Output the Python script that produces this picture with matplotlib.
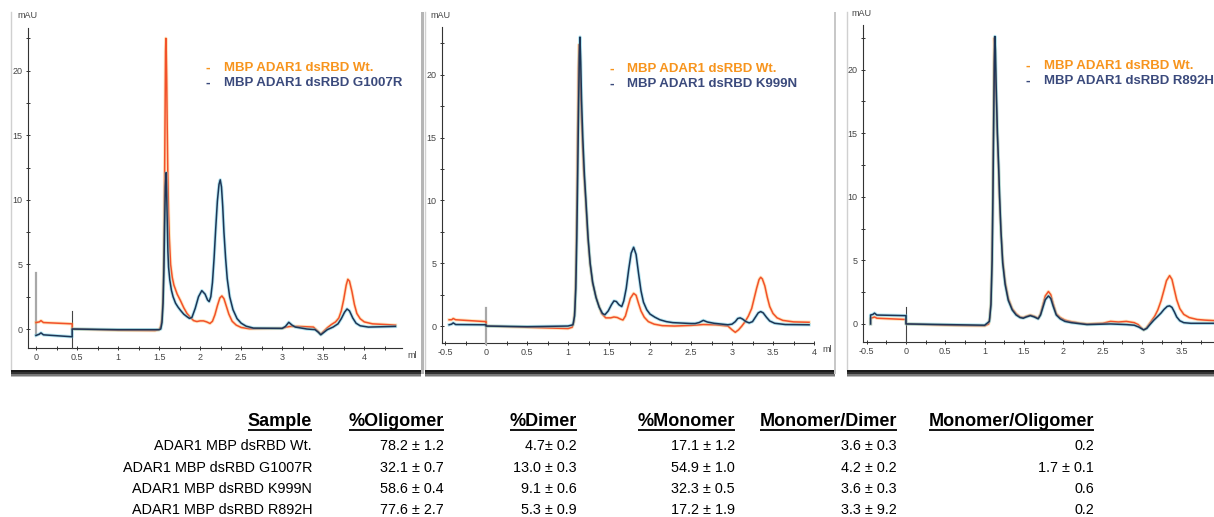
import matplotlib
matplotlib.use("Agg")
import matplotlib.pyplot as plt
from matplotlib.patches import Rectangle
from matplotlib.ticker import MultipleLocator, FuncFormatter

plt.rcParams['font.family'] = ['Liberation Sans', 'DejaVu Sans']

W, H = 1214, 517

# ---------------- data (ml, mAU) ----------------
legend_wt = "MBP ADAR1 dsRBD Wt."
legend_mut = ["MBP ADAR1 dsRBD G1007R", "MBP ADAR1 dsRBD K999N", "MBP ADAR1 dsRBD R892H"]

p1_wt = [(0.0, 0.5), (0.04, 0.55), (0.06, 0.65), (0.09, 0.5), (0.44, 0.4), (0.44, 0.0), (1.0, -0.1),
         (1.45, -0.12), (1.50, -0.05), (1.52, 0.2), (1.535, 0.8), (1.548, 2.5), (1.558, 6.0), (1.566, 11.0),
         (1.573, 17.0), (1.578, 21.5), (1.582, 22.5), (1.587, 21.5), (1.592, 19.5), (1.598, 16.0),
         (1.606, 12.0), (1.615, 9.0), (1.625, 7.0), (1.64, 5.0), (1.66, 4.0), (1.68, 3.4), (1.72, 2.7),
         (1.76, 2.2), (1.80, 1.65), (1.84, 1.2), (1.88, 0.9), (1.92, 0.65), (1.96, 0.58), (2.0, 0.63),
         (2.04, 0.63), (2.08, 0.55), (2.12, 0.43), (2.15, 0.6), (2.18, 1.1), (2.21, 1.8), (2.24, 2.4),
         (2.265, 2.56), (2.29, 2.35), (2.32, 1.75), (2.35, 1.15), (2.39, 0.6), (2.44, 0.3), (2.5, 0.12),
         (2.6, 0.02), (3.0, 0.05), (3.05, 0.15), (3.1, 0.2), (3.2, 0.2), (3.38, 0.15), (3.44, -0.2),
         (3.47, -0.4), (3.51, -0.15), (3.55, 0.1), (3.60, 0.35), (3.65, 0.55), (3.69, 0.85), (3.72, 1.4),
         (3.75, 2.3), (3.78, 3.4), (3.80, 3.85), (3.82, 3.7), (3.85, 2.9), (3.88, 1.9), (3.91, 1.2),
         (3.95, 0.8), (4.0, 0.55), (4.1, 0.4), (4.25, 0.35), (4.38, 0.3)]
p1_mut = [(0.0, -0.5), (0.04, -0.4), (0.06, -0.3), (0.09, -0.45), (0.44, -0.6), (0.44, 0.0), (1.0, -0.05),
          (1.5, -0.05), (1.52, 0.0), (1.535, 0.5), (1.548, 2.0), (1.558, 4.5), (1.567, 8.0), (1.576, 11.0),
          (1.585, 12.1), (1.592, 10.5), (1.60, 8.0), (1.607, 6.0), (1.615, 4.8), (1.63, 3.8), (1.65, 3.0),
          (1.67, 2.5), (1.70, 2.0), (1.73, 1.7), (1.76, 1.45), (1.80, 1.15), (1.84, 0.95), (1.87, 0.82),
          (1.90, 0.9), (1.94, 1.6), (1.98, 2.5), (2.02, 2.97), (2.06, 2.7), (2.09, 2.25), (2.11, 2.12),
          (2.13, 2.5), (2.15, 3.6), (2.17, 5.5), (2.19, 7.8), (2.21, 9.9), (2.23, 11.2), (2.245, 11.55),
          (2.26, 11.0), (2.275, 9.5), (2.29, 7.5), (2.31, 5.5), (2.33, 3.9), (2.36, 2.5), (2.40, 1.5),
          (2.45, 0.8), (2.5, 0.45), (2.56, 0.22), (2.65, 0.07), (3.0, 0.05), (3.04, 0.2), (3.08, 0.52),
          (3.12, 0.3), (3.16, 0.15), (3.3, 0.0), (3.4, -0.05), (3.44, -0.25), (3.47, -0.45), (3.51, -0.25),
          (3.55, -0.05), (3.62, 0.15), (3.68, 0.4), (3.72, 0.8), (3.76, 1.3), (3.79, 1.55), (3.82, 1.4),
          (3.86, 0.85), (3.90, 0.45), (3.95, 0.25), (4.05, 0.15), (4.38, 0.2)]

p2_wt = [(-0.45, 0.5), (-0.42, 0.5), (-0.40, 0.6), (-0.37, 0.5), (0.0, 0.35), (0.0, 0.0), (0.5, -0.1),
         (1.0, -0.2), (1.05, -0.1), (1.07, 0.3), (1.085, 1.5), (1.098, 5.0), (1.108, 10.0), (1.118, 16.0),
         (1.127, 20.5), (1.134, 22.4), (1.142, 21.5), (1.15, 19.0), (1.17, 15.5), (1.19, 12.5),
         (1.215, 10.0), (1.24, 7.2), (1.268, 5.0), (1.30, 3.4), (1.35, 2.1), (1.41, 1.0), (1.46, 0.65),
         (1.52, 0.65), (1.56, 0.72), (1.60, 0.68), (1.64, 0.55), (1.67, 0.48), (1.70, 0.8), (1.73, 1.5),
         (1.76, 2.2), (1.80, 2.6), (1.83, 2.45), (1.86, 1.8), (1.89, 1.2), (1.93, 0.7), (1.98, 0.35),
         (2.05, 0.15), (2.15, 0.03), (2.3, 0.0), (2.5, 0.05), (2.65, 0.12), (2.8, 0.1), (2.95, 0.0),
         (3.0, -0.3), (3.04, -0.5), (3.08, -0.3), (3.12, 0.0), (3.16, 0.35), (3.20, 0.8), (3.24, 1.4),
         (3.27, 2.2), (3.30, 3.0), (3.33, 3.7), (3.35, 3.88), (3.37, 3.75), (3.40, 3.2), (3.43, 2.3),
         (3.46, 1.55), (3.50, 1.0), (3.55, 0.65), (3.62, 0.45), (3.75, 0.33), (3.94, 0.3)]
p2_mut = [(-0.45, 0.1), (-0.42, 0.15), (-0.40, 0.25), (-0.37, 0.12), (0.0, 0.1), (0.0, 0.0), (0.5, -0.05),
          (1.0, 0.0), (1.06, 0.1), (1.08, 0.8), (1.095, 3.0), (1.107, 7.0), (1.118, 12.0), (1.128, 17.0),
          (1.138, 21.5), (1.146, 23.0), (1.155, 21.0), (1.165, 18.0), (1.18, 15.0), (1.20, 12.0),
          (1.22, 9.8), (1.245, 7.0), (1.27, 5.0), (1.30, 3.5), (1.34, 2.3), (1.38, 1.5), (1.42, 1.0),
          (1.45, 0.9), (1.49, 1.2), (1.53, 1.7), (1.56, 2.0), (1.59, 1.95), (1.62, 1.7), (1.655, 1.55),
          (1.68, 2.0), (1.71, 3.0), (1.74, 4.5), (1.77, 5.8), (1.80, 6.27), (1.83, 5.7), (1.86, 4.2),
          (1.89, 2.8), (1.92, 1.9), (1.96, 1.3), (2.0, 0.95), (2.06, 0.7), (2.12, 0.5), (2.2, 0.35),
          (2.28, 0.27), (2.5, 0.2), (2.55, 0.2), (2.6, 0.28), (2.65, 0.45), (2.70, 0.32), (2.78, 0.22),
          (2.95, 0.1), (3.0, 0.15), (3.04, 0.35), (3.07, 0.6), (3.10, 0.65), (3.13, 0.55), (3.17, 0.35),
          (3.21, 0.25), (3.25, 0.35), (3.29, 0.75), (3.32, 1.05), (3.35, 1.15), (3.38, 1.05), (3.42, 0.7),
          (3.46, 0.4), (3.52, 0.22), (3.65, 0.12), (3.94, 0.1)]

p3_wt = [(-0.45, 0.0), (-0.45, 0.45), (-0.42, 0.5), (-0.40, 0.55), (-0.37, 0.45), (0.0, 0.35), (0.0, 0.0),
         (0.5, -0.1), (1.0, -0.15), (1.05, 0.0), (1.065, 0.5), (1.08, 1.8), (1.093, 5.0), (1.103, 10.0),
         (1.112, 16.0), (1.118, 20.5), (1.123, 22.5), (1.13, 21.5), (1.14, 19.0), (1.16, 15.0),
         (1.175, 12.5), (1.187, 10.0), (1.205, 7.5), (1.229, 5.0), (1.26, 3.3), (1.30, 2.0), (1.35, 1.2),
         (1.40, 0.8), (1.45, 0.55), (1.49, 0.5), (1.53, 0.6), (1.58, 0.7), (1.63, 0.6), (1.68, 0.45),
         (1.71, 0.8), (1.74, 1.5), (1.77, 2.2), (1.81, 2.55), (1.84, 2.3), (1.87, 1.6), (1.91, 0.8),
         (1.96, 0.5), (2.02, 0.3), (2.08, 0.2), (2.2, 0.07), (2.3, 0.0), (2.5, 0.05), (2.6, 0.2),
         (2.7, 0.15), (2.8, 0.2), (2.9, 0.1), (2.95, -0.05), (2.99, -0.3), (3.02, -0.47), (3.05, -0.35),
         (3.08, -0.1), (3.12, 0.25), (3.16, 0.6), (3.20, 1.1), (3.24, 1.8), (3.28, 2.7), (3.31, 3.4),
         (3.35, 3.8), (3.38, 3.5), (3.41, 2.7), (3.44, 1.9), (3.48, 1.2), (3.53, 0.75), (3.60, 0.5),
         (3.70, 0.35), (3.8, 0.3), (3.95, 0.25)]
p3_mut = [(-0.45, 0.0), (-0.45, 0.7), (-0.42, 0.75), (-0.40, 0.85), (-0.37, 0.7), (0.0, 0.65), (0.0, 0.0),
          (0.5, -0.05), (1.0, -0.1), (1.06, 0.2), (1.08, 1.5), (1.095, 5.0), (1.105, 10.0), (1.115, 16.0),
          (1.123, 20.5), (1.13, 22.6), (1.137, 21.5), (1.145, 19.0), (1.162, 15.0), (1.177, 12.5),
          (1.19, 10.0), (1.207, 7.3), (1.229, 4.8), (1.26, 3.1), (1.30, 1.85), (1.35, 1.1), (1.40, 0.7),
          (1.45, 0.5), (1.49, 0.45), (1.53, 0.55), (1.58, 0.65), (1.63, 0.55), (1.68, 0.4), (1.71, 0.7),
          (1.74, 1.3), (1.77, 1.9), (1.81, 2.2), (1.84, 2.0), (1.87, 1.4), (1.91, 0.7), (1.96, 0.4),
          (2.02, 0.2), (2.1, 0.1), (2.3, -0.05), (2.6, 0.0), (2.8, -0.05), (2.9, -0.1), (2.96, -0.25),
          (3.02, -0.47), (3.06, -0.35), (3.10, -0.05), (3.15, 0.3), (3.20, 0.6), (3.24, 0.85), (3.28, 1.15),
          (3.32, 1.38), (3.35, 1.42), (3.38, 1.3), (3.41, 0.95), (3.44, 0.55), (3.48, 0.25), (3.53, 0.1),
          (3.62, 0.05), (3.95, 0.05)]

# injection marks: (ml, mAU from, mAU to)
p1_marks = [(0.0, -0.5, 4.3), (0.44, -1.5, 1.4)]
p2_marks = [(0.0, -1.4, 1.4)]
p3_marks = [(0.0, -1.4, 1.35)]

table_headers = ["Sample", "%Oligomer", "%Dimer", "%Monomer", "Monomer/Dimer", "Monomer/Oligomer"]
samples = ["ADAR1 MBP dsRBD Wt.", "ADAR1 MBP dsRBD G1007R", "ADAR1 MBP dsRBD K999N", "ADAR1 MBP dsRBD R892H"]
pct_oligomer = ["78.2 \u00b1 1.2", "32.1 \u00b1 0.7", "58.6 \u00b1 0.4", "77.6 \u00b1 2.7"]
pct_dimer = ["4.7\u00b1 0.2", "13.0 \u00b1 0.3", "9.1 \u00b1 0.6", "5.3 \u00b1 0.9"]
pct_monomer = ["17.1 \u00b1 1.2", "54.9 \u00b1 1.0", "32.3 \u00b1 0.5", "17.2 \u00b1 1.9"]
mono_dimer = ["3.6 \u00b1 0.3", "4.2 \u00b1 0.2", "3.6 \u00b1 0.3", "3.3 \u00b1 9.2"]
mono_oligomer = ["0.2", "1.7 \u00b1 0.1", "0.6", "0.2"]

# ---------------- figure ----------------
fig = plt.figure(figsize=(W / 100, H / 100), dpi=100)
bg = fig.add_axes([0, 0, 1, 1], zorder=0)
bg.set_xlim(0, W)
bg.set_ylim(H, 0)
bg.axis('off')

# panel frames (pixel coords): left, right
frames = [(11, 421), (425, 835), (847, 1214)]
for l, r in frames:
    bg.add_patch(Rectangle((l, 12), r - l, 358, facecolor='white', edgecolor='none', zorder=0))
    bg.plot([l, l], [12, 370], color='#d0d0d0', lw=1.0, zorder=1)
    for dy, c in [(0, '#1a1a1a'), (2, '#333333'), (4, '#777777'), (5.5, '#bbbbbb')]:
        bg.add_patch(Rectangle((l, 370 + dy), r - l, 1.6, facecolor=c, edgecolor='none', zorder=1))
bg.add_patch(Rectangle((421, 12), 3, 362, facecolor='#b5b5b5', edgecolor='none', zorder=1))
bg.add_patch(Rectangle((834, 12), 2, 362, facecolor='#c8c8c8', edgecolor='none', zorder=1))


def fig_rect(l, t, r, b):
    return [l / W, 1 - b / H, (r - l) / W, (b - t) / H]


panels = [
    dict(box=(28, 28, 402, 348), xlim=(-0.098, 4.46), ylim=(-1.47, 23.3),
         wt=p1_wt, mut=p1_mut, marks=p1_marks,
         mau=(27, 16), ml=(412, 356), leg=(208, 224, 68, 83)),
    dict(box=(442, 27, 814, 343), xlim=(-0.537, 4.0), ylim=(-1.35, 23.8),
         wt=p2_wt, mut=p2_mut, marks=p2_marks,
         mau=(440, 15), ml=(827, 350), leg=(612, 627, 69, 84)),
    dict(box=(863, 25, 1214, 342), xlim=(-0.546, 3.914), ylim=(-1.42, 23.5),
         wt=p3_wt, mut=p3_mut, marks=p3_marks,
         mau=(861, 14), ml=None, leg=(1028, 1044, 66, 81)),
]

narrow = ['Liberation Sans Narrow', 'Liberation Sans']
fmt = FuncFormatter(lambda v, p: ('%g' % v))

for i, pnl in enumerate(panels):
    ax = fig.add_axes(fig_rect(*pnl['box']), zorder=2)
    ax.patch.set_alpha(0)
    ax.set_xlim(*pnl['xlim'])
    ax.set_ylim(*pnl['ylim'])
    for s in ('top', 'right'):
        ax.spines[s].set_visible(False)
    for s in ('left', 'bottom'):
        ax.spines[s].set_color('#333333')
        ax.spines[s].set_linewidth(0.8)
    ax.xaxis.set_major_locator(MultipleLocator(0.5))
    ax.xaxis.set_minor_locator(MultipleLocator(0.25))
    ax.yaxis.set_major_locator(MultipleLocator(5))
    ax.yaxis.set_minor_locator(MultipleLocator(2.5))
    ax.xaxis.set_major_formatter(fmt)
    ax.yaxis.set_major_formatter(fmt)
    ax.tick_params(which='both', direction='inout', length=3.5, width=0.7, color='#333333',
                   labelsize=6.5, labelcolor='#444444', pad=2)
    for lab in ax.get_xticklabels() + ax.get_yticklabels():
        lab.set_fontfamily(narrow)

    for mx, y0, y1 in pnl['marks']:
        grey = (i < 2 and mx == 0.0)
        ax.plot([mx, mx], [y0, y1], color='#a8a8a8' if grey else '#444444',
                lw=1.6 if grey else 0.8, zorder=3, clip_on=False)

    wx = [p[0] for p in pnl['wt']]
    wy = [p[1] for p in pnl['wt']]
    mx_ = [p[0] for p in pnl['mut']]
    my_ = [p[1] for p in pnl['mut']]
    ax.plot(wx, wy, color='#ffb347', lw=2.4, alpha=0.35, zorder=4, solid_joinstyle='round')
    ax.plot(wx, wy, color='#f2512a', lw=1.1, zorder=5, solid_joinstyle='round')
    ax.plot(mx_, my_, color='#5cc6e0', lw=2.4, alpha=0.45, zorder=6, solid_joinstyle='round')
    ax.plot(mx_, my_, color='#1d3556', lw=1.1, zorder=7, solid_joinstyle='round')

    bg.text(pnl['mau'][0], pnl['mau'][1], 'mAU', ha='center', va='center', fontsize=6.5,
            color='#444444', family=narrow, zorder=3)
    if pnl['ml'] is not None:
        bg.text(pnl['ml'][0], pnl['ml'][1], 'ml', ha='center', va='center', fontsize=6.5,
                color='#444444', family=narrow, zorder=3)

    dx, tx, y1, y2 = pnl['leg']
    bg.text(dx, y1, '-', ha='center', va='center', fontsize=10, fontweight='bold',
            color='#f7941d', zorder=3)
    bg.text(tx, y1, legend_wt, ha='left', va='center', fontsize=9.5, fontweight='bold',
            color='#f7941d', zorder=3)
    bg.text(dx, y2, '-', ha='center', va='center', fontsize=10, fontweight='bold',
            color='#3b4a7c', zorder=3)
    bg.text(tx, y2, legend_mut[i], ha='left', va='center', fontsize=9.5, fontweight='bold',
            color='#3b4a7c', zorder=3)

# ---------------- table ----------------
col_right = [312, 444, 577, 735, 897, 1094]
header_y = 421
row_y = [446, 468, 489, 510]
columns = [samples, pct_oligomer, pct_dimer, pct_monomer, mono_dimer, mono_oligomer]

fig.canvas.draw()
renderer = fig.canvas.get_renderer()
for cx, head, vals in zip(col_right, table_headers, columns):
    t = bg.text(cx, header_y, head, ha='right', va='center', fontsize=13, fontweight='bold',
                color='black', zorder=3)
    bb = t.get_window_extent(renderer)
    bg.plot([bb.x0, bb.x1], [429.5, 429.5], color='black', lw=1.3, zorder=3,
            solid_capstyle='butt')
    for ry, v in zip(row_y, vals):
        bg.text(cx, ry, v, ha='right', va='center', fontsize=10.4, color='black', zorder=3)

fig.savefig('out.png', dpi=100)
